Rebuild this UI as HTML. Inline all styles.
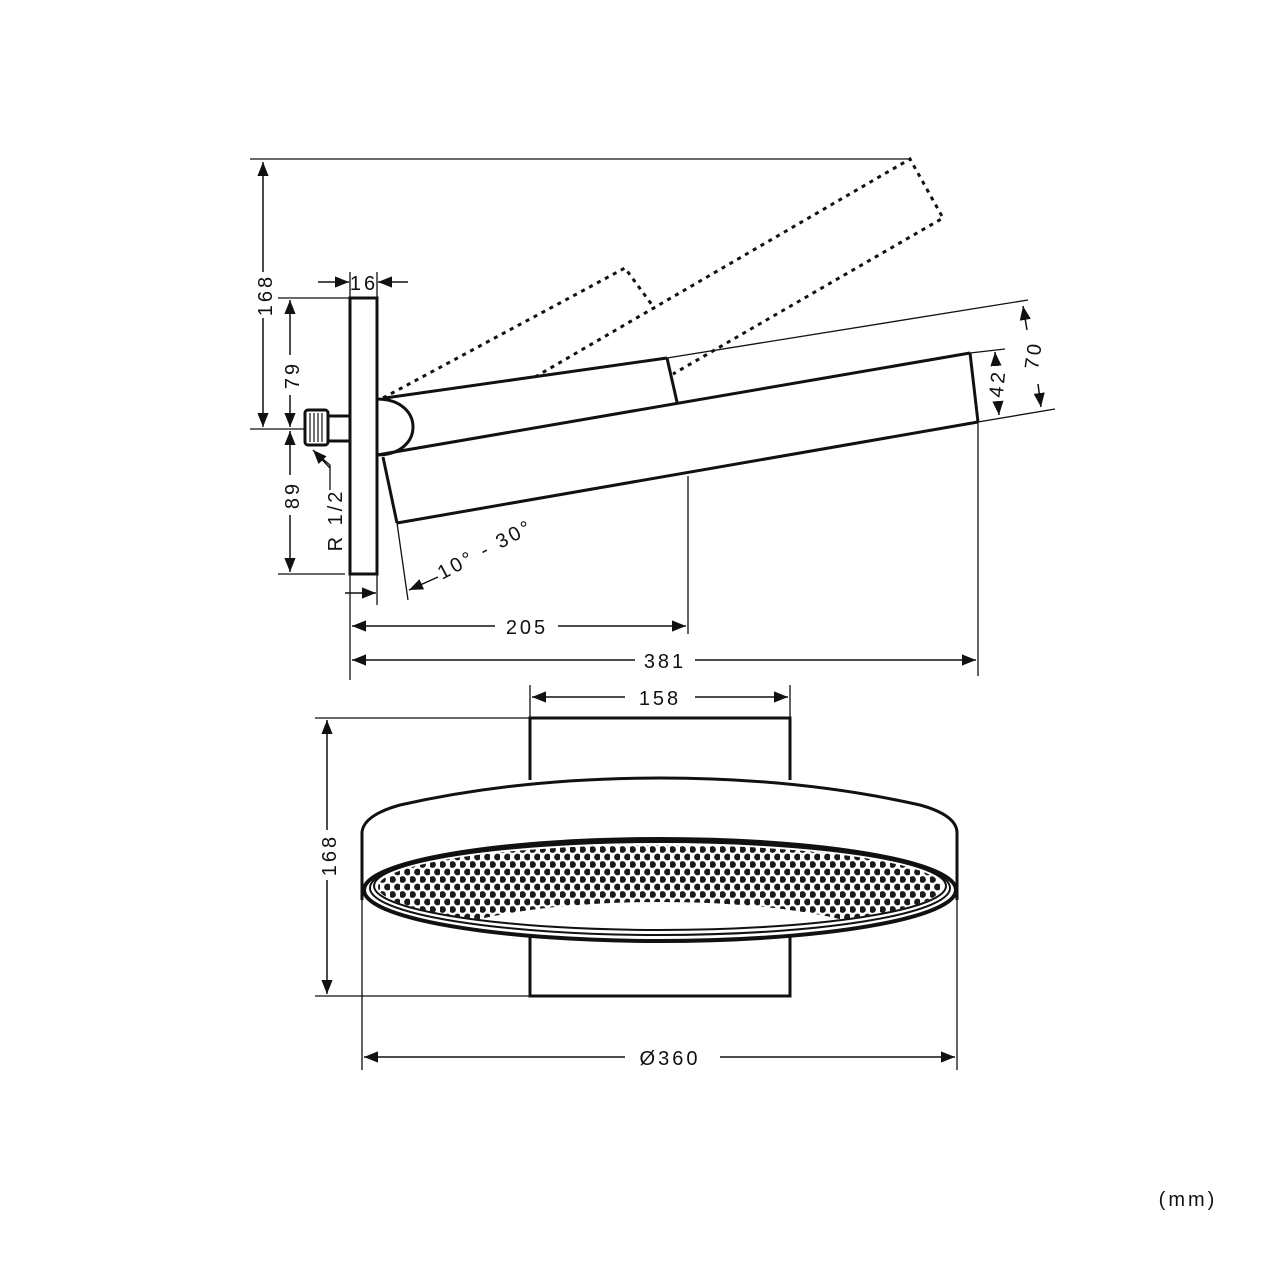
<!DOCTYPE html>
<html><head><meta charset="utf-8"><style>
html,body{margin:0;padding:0;background:#fff;}
svg{display:block;}
text{font-family:"Liberation Sans",sans-serif;font-size:20px;fill:#111;letter-spacing:3px;}
</style></head><body>
<svg width="1280" height="1280" viewBox="0 0 1280 1280" xmlns="http://www.w3.org/2000/svg">
<defs>
<marker id="a" viewBox="0 0 10 10" refX="10" refY="5" markerWidth="14" markerHeight="14" markerUnits="userSpaceOnUse" orient="auto-start-reverse"><path d="M0,1 L10,5 L0,9 z" fill="#111"/></marker>
<pattern id="dp" x="0" y="846" width="10" height="15" patternUnits="userSpaceOnUse">
<circle cx="2.5" cy="3.5" r="3.4" fill="#1a1a1a"/>
<circle cx="7.5" cy="11" r="3.4" fill="#1a1a1a"/>
</pattern>
<mask id="dm" maskUnits="userSpaceOnUse" x="0" y="0" width="1280" height="1280">
<ellipse cx="660" cy="887" rx="282" ry="42" fill="#fff"/>
<ellipse cx="660" cy="950" rx="235" ry="48" fill="#000"/>
<rect x="380" y="915" width="40" height="30" fill="#000"/>
<rect x="900" y="915" width="40" height="30" fill="#000"/>
</mask>
</defs>
<g stroke="#111" fill="none">
<g stroke-width="1.3">
<line x1="250" y1="159" x2="910" y2="159"/>
<line x1="250" y1="429" x2="305" y2="429"/>
<line x1="278" y1="298" x2="350" y2="298"/>
<line x1="278" y1="574" x2="345" y2="574"/>
<line x1="350" y1="272" x2="350" y2="680"/>
<line x1="377" y1="272" x2="377" y2="605"/>
<line x1="397" y1="523" x2="408" y2="600"/>
<line x1="688" y1="476" x2="688" y2="634"/>
<line x1="978" y1="422" x2="978" y2="676"/>
<line x1="667" y1="358" x2="1028" y2="300"/>
<line x1="978" y1="422" x2="1055" y2="409"/>
<line x1="970" y1="353" x2="1005" y2="349"/>
<polyline points="330,490 330,465 318,455"/>
</g>
<g stroke-width="1.5">
<line x1="263" y1="162" x2="263" y2="272" marker-start="url(#a)"/>
<line x1="263" y1="318" x2="263" y2="427" marker-end="url(#a)"/>
<line x1="290" y1="300" x2="290" y2="355" marker-start="url(#a)"/>
<line x1="290" y1="395" x2="290" y2="427" marker-end="url(#a)"/>
<line x1="290" y1="431" x2="290" y2="475" marker-start="url(#a)"/>
<line x1="290" y1="515" x2="290" y2="572" marker-end="url(#a)"/>
<line x1="318" y1="282" x2="349" y2="282" marker-end="url(#a)"/>
<line x1="408" y1="282" x2="378" y2="282" marker-end="url(#a)"/>
<line x1="345" y1="593" x2="376" y2="593" marker-end="url(#a)"/>
<line x1="438" y1="577" x2="409" y2="590" marker-end="url(#a)"/>
<line x1="330" y1="468" x2="313" y2="450" marker-end="url(#a)"/>
<line x1="352" y1="626" x2="495" y2="626" marker-start="url(#a)"/>
<line x1="558" y1="626" x2="686" y2="626" marker-end="url(#a)"/>
<line x1="352" y1="660" x2="635" y2="660" marker-start="url(#a)"/>
<line x1="695" y1="660" x2="976" y2="660" marker-end="url(#a)"/>
<line x1="1023" y1="306" x2="1027" y2="330" marker-start="url(#a)"/>
<line x1="1038" y1="384" x2="1041" y2="407" marker-end="url(#a)"/>
<line x1="995" y1="352" x2="996" y2="366" marker-start="url(#a)"/>
<line x1="998" y1="402" x2="999" y2="415" marker-end="url(#a)"/>
<line x1="532" y1="697" x2="625" y2="697" marker-start="url(#a)"/>
<line x1="695" y1="697" x2="788" y2="697" marker-end="url(#a)"/>
<line x1="327" y1="720" x2="327" y2="830" marker-start="url(#a)"/>
<line x1="327" y1="880" x2="327" y2="994" marker-end="url(#a)"/>
<line x1="364" y1="1057" x2="625" y2="1057" marker-start="url(#a)"/>
<line x1="720" y1="1057" x2="955" y2="1057" marker-end="url(#a)"/>
</g>
<g stroke-width="1.3">
<line x1="530" y1="685" x2="530" y2="718"/>
<line x1="790" y1="685" x2="790" y2="718"/>
<line x1="315" y1="718" x2="530" y2="718"/>
<line x1="315" y1="996" x2="530" y2="996"/>
<line x1="362" y1="900" x2="362" y2="1070"/>
<line x1="957" y1="900" x2="957" y2="1070"/>
</g>
<g stroke-width="3" stroke-dasharray="4 5">
<polyline points="383,398 625,268 652,305"/>
<polyline points="535,377 910,159 943,218 673,374"/>
</g>
<g stroke-width="3">
<rect x="350" y="298" width="27" height="276"/>
<rect x="305" y="410" width="23" height="35" rx="3"/>
<line x1="328" y1="416" x2="350" y2="416"/>
<line x1="328" y1="441" x2="350" y2="441"/>
<path d="M377,399 C425,399 425,455 377,455"/>
<line x1="385" y1="398" x2="667" y2="358"/>
<line x1="667" y1="358" x2="677" y2="402"/>
<line x1="377" y1="455" x2="970" y2="353"/>
<line x1="970" y1="353" x2="978" y2="422"/>
<line x1="978" y1="422" x2="397" y2="523"/>
<line x1="383" y1="457" x2="397" y2="523"/>
<path d="M530,780 L530,718 L790,718 L790,780"/>
<path d="M530,935 L530,996 L790,996 L790,935"/>
<path d="M362,900 L362,832 Q364,815 400,805 Q520,778 660,778 Q800,778 920,805 Q956,815 957,832 L957,900"/>
<ellipse cx="660" cy="890" rx="296" ry="51" fill="#fff" stroke-width="4"/>
<ellipse cx="660" cy="888" rx="290" ry="47" stroke-width="2"/>
<ellipse cx="660" cy="886" rx="286" ry="44" stroke-width="2"/>
</g>
<g stroke-width="1.2">
<line x1="310" y1="413" x2="310" y2="442"/><line x1="314" y1="413" x2="314" y2="442"/><line x1="318" y1="413" x2="318" y2="442"/><line x1="322" y1="413" x2="322" y2="442"/>
</g>
</g>
<rect x="370" y="840" width="580" height="100" fill="url(#dp)" mask="url(#dm)"/>
<text transform="translate(272,295) rotate(-90)" text-anchor="middle">168</text>
<text transform="translate(299,375) rotate(-90)" text-anchor="middle">79</text>
<text transform="translate(299,495) rotate(-90)" text-anchor="middle">89</text>
<text transform="translate(342,520) rotate(-90)" text-anchor="middle">R 1/2</text>
<text x="364" y="290" text-anchor="middle" letter-spacing="0">16</text>
<text transform="translate(442,580) rotate(-28)">10° - 30°</text>
<text x="527" y="634" text-anchor="middle">205</text>
<text x="665" y="668" text-anchor="middle">381</text>
<text transform="translate(1040,356) rotate(-82)" text-anchor="middle">70</text>
<text transform="translate(1004,384) rotate(-84)" text-anchor="middle">42</text>
<text x="660" y="705" text-anchor="middle">158</text>
<text transform="translate(336,855) rotate(-90)" text-anchor="middle">168</text>
<text x="670" y="1065" text-anchor="middle">Ø360</text>
<text x="1188" y="1206" text-anchor="middle" letter-spacing="0" font-size="18">(mm)</text>
</svg>
</body></html>
